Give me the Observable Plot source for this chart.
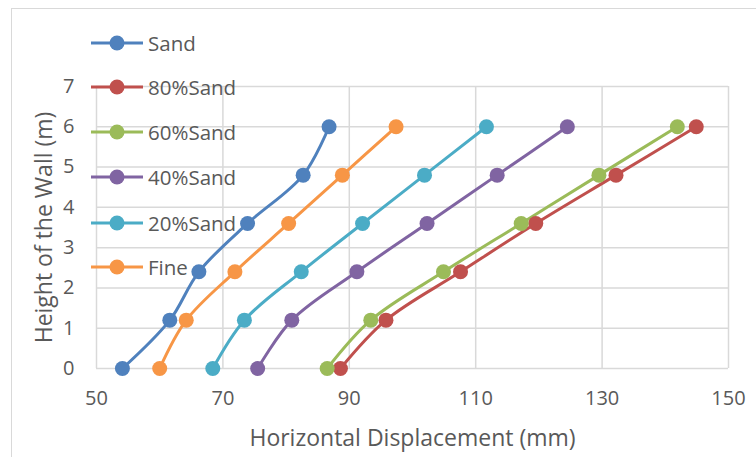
<!DOCTYPE html>
<html>
<head>
<meta charset="utf-8">
<script src="https://cdn.jsdelivr.net/npm/d3@7"></script>
<script src="https://cdn.jsdelivr.net/npm/@observablehq/plot@0.6"></script>
<style>
  html, body { margin: 0; padding: 0; background: #fff; overflow: hidden; }
  #wrap { position: relative; width: 756px; height: 457px; overflow: hidden; font-family: "Open Sans", sans-serif; color: #595959; }
  #frame { position: absolute; left: 11px; top: 8px; width: 800px; height: 500px; border-top: 1.5px solid #d9d9d9; border-left: 1.5px solid #d9d9d9; pointer-events: none; }
  #legend { position: absolute; left: 0; top: 0; }
  .item { position: absolute; left: 90px; height: 24px; display: flex; align-items: center; font-size: 20.5px; white-space: nowrap; }
  .item svg { display: block; margin-right: 4px; }
</style>
</head>
<body>
<div id="wrap"><div id="frame"></div><div id="chart"></div><div id="legend"></div></div>
<script>
const heights = [0, 1.2, 2.4, 3.6, 4.8, 6];
const seriesNames = ["Sand", "80%Sand", "60%Sand", "40%Sand", "20%Sand", "Fine"];
const sand   = [54.1, 61.6, 66.2, 73.9, 82.7, 86.8];
const sand80 = [88.6, 95.8, 107.6, 119.5, 132.2, 144.9];
const sand60 = [86.5, 93.4, 104.9, 117.2, 129.5, 141.9];
const sand40 = [75.5, 80.9, 91.2, 102.3, 113.4, 124.5];
const sand20 = [68.4, 73.4, 82.4, 92.1, 101.9, 111.7];
const fine   = [60.0, 64.2, 71.9, 80.4, 88.9, 97.4];
const colors = ["#4F81BD", "#C0504D", "#9BBB59", "#8064A2", "#4BACC6", "#F79646"];
const xTicks = [50, 70, 90, 110, 130, 150];
const yTicks = [0, 1, 2, 3, 4, 5, 6, 7];
const xTitle = "Horizontal Displacement (mm)";
const yTitle = "Height of the Wall (m)";

const valuesBySeries = [sand, sand80, sand60, sand40, sand20, fine];
const data = [];
seriesNames.forEach((s, i) => {
  valuesBySeries[i].forEach((x, j) => data.push({series: s, x, h: heights[j]}));
});

const chart = Plot.plot({
  width: 756,
  height: 457,
  marginLeft: 96,
  marginRight: 28,
  marginTop: 86,
  marginBottom: 89,
  style: {fontFamily: "'Open Sans', sans-serif", fontSize: "20px", color: "#595959", background: "transparent"},
  x: {domain: [50, 150]},
  y: {domain: [0, 7]},
  color: {domain: seriesNames, range: colors},
  marks: [
    Plot.gridX(xTicks, {stroke: "#d9d9d9", strokeOpacity: 1, strokeWidth: 1.5}),
    Plot.gridY(yTicks, {stroke: "#d9d9d9", strokeOpacity: 1, strokeWidth: 1.5}),
    Plot.axisX(xTicks, {tickSize: 0, tickPadding: 22, fontSize: 20, label: null}),
    Plot.axisY(yTicks, {tickSize: 0, tickPadding: 22, fontSize: 20, label: null}),
    Plot.text([xTitle], {text: d => d, frameAnchor: "bottom", textAnchor: "middle", lineAnchor: "middle", dy: 70, fontSize: 23, fill: "#595959"}),
    Plot.text([yTitle], {text: d => d, frameAnchor: "left", textAnchor: "middle", lineAnchor: "middle", rotate: -90, dx: -52, fontSize: 23, fill: "#595959"}),
    Plot.line(data, {x: "x", y: "h", z: "series", stroke: "series", strokeWidth: 3, curve: "catmull-rom"}),
    Plot.dot(data, {x: "x", y: "h", fill: "series", r: 7.5})
  ]
});
document.getElementById("chart").appendChild(chart);

// legend
const legend = document.getElementById("legend");
const legendTops = [42.7, 87, 131.7, 177, 222.7, 267.3];
seriesNames.forEach((s, i) => {
  const item = document.createElement("div");
  item.className = "item";
  item.style.top = (legendTops[i] - 12) + "px";
  item.innerHTML = `<svg width="54" height="24"><line x1="1" x2="53" y1="12" y2="12" stroke="${colors[i]}" stroke-width="3"/><circle cx="27" cy="12" r="7.5" fill="${colors[i]}"/></svg><span>${s}</span>`;
  legend.appendChild(item);
});
</script>
</body>
</html>
